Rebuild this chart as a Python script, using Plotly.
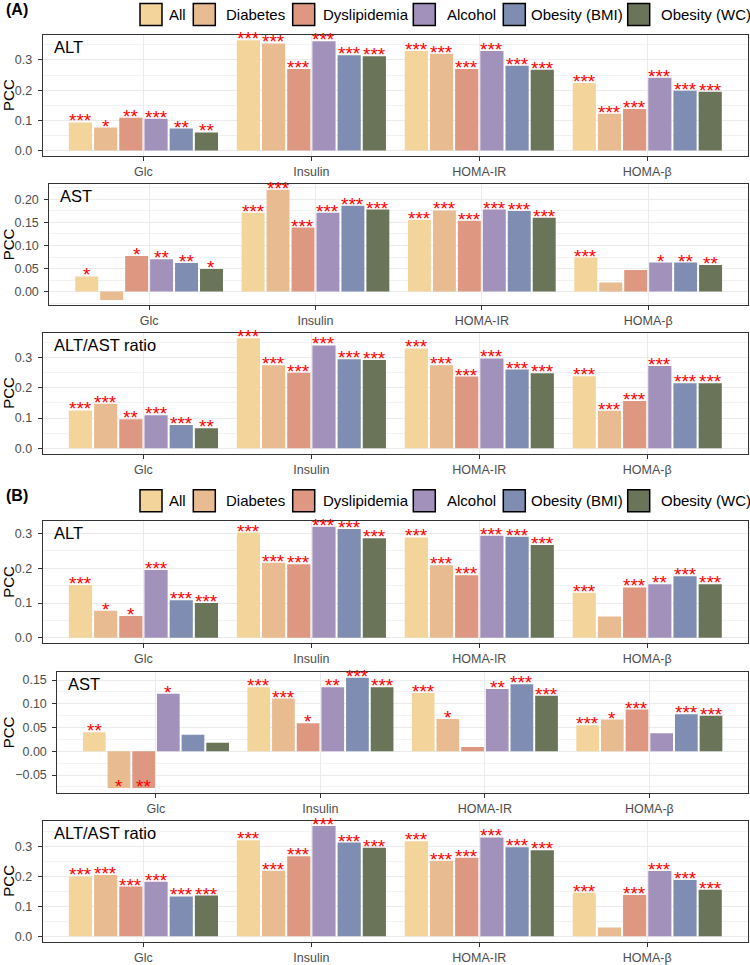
import plotly.graph_objects as go

W, H = 750, 965

CATEGORIES = ["Glc", "Insulin", "HOMA-IR", "HOMA-β"]
GROUPS = ["All", "Diabetes", "Dyslipidemia", "Alcohol", "Obesity (BMI)", "Obesity (WC)"]
COLORS = ["#F3D59B", "#E9BB91", "#DE9882", "#A291BB", "#7E8DB1", "#6A7459"]

# values: one list per group (All, Diabetes, Dyslipidemia, Alcohol, BMI, WC), over CATEGORIES
A_ALT = [[0.093, 0.365, 0.330, 0.224],
         [0.076, 0.355, 0.321, 0.122],
         [0.109, 0.270, 0.270, 0.138],
         [0.105, 0.362, 0.330, 0.241],
         [0.073, 0.316, 0.281, 0.198],
         [0.060, 0.312, 0.268, 0.195]]
A_ALT_SIG = [["***", "***", "***", "***"],
             ["*", "***", "***", "***"],
             ["**", "***", "***", "***"],
             ["***", "***", "***", "***"],
             ["**", "***", "***", "***"],
             ["**", "***", "***", "***"]]

A_AST = [[0.033, 0.171, 0.156, 0.074],
         [-0.018, 0.221, 0.176, 0.020],
         [0.077, 0.139, 0.154, 0.047],
         [0.070, 0.171, 0.178, 0.063],
         [0.062, 0.186, 0.175, 0.063],
         [0.049, 0.178, 0.160, 0.058]]
A_AST_SIG = [["*", "***", "***", "***"],
             ["", "***", "***", ""],
             ["*", "***", "***", ""],
             ["**", "***", "***", "*"],
             ["**", "***", "***", "**"],
             ["*", "***", "***", "**"]]

A_RATIO = [[0.125, 0.364, 0.330, 0.238],
           [0.147, 0.274, 0.274, 0.124],
           [0.096, 0.250, 0.237, 0.156],
           [0.109, 0.340, 0.297, 0.272],
           [0.077, 0.294, 0.260, 0.215],
           [0.066, 0.292, 0.248, 0.215]]
A_RATIO_SIG = [["***", "***", "***", "***"],
               ["***", "***", "***", "***"],
               ["**", "***", "***", "***"],
               ["***", "***", "***", "***"],
               ["***", "***", "***", "***"],
               ["**", "***", "***", "***"]]

B_ALT = [[0.152, 0.303, 0.289, 0.130],
         [0.078, 0.216, 0.209, 0.061],
         [0.063, 0.212, 0.180, 0.145],
         [0.195, 0.320, 0.294, 0.154],
         [0.108, 0.313, 0.291, 0.177],
         [0.100, 0.287, 0.267, 0.154]]
B_ALT_SIG = [["***", "***", "***", "***"],
             ["*", "***", "***", ""],
             ["*", "***", "***", "***"],
             ["***", "***", "***", "**"],
             ["***", "***", "***", "***"],
             ["***", "***", "***", "***"]]

B_AST = [[0.040, 0.135, 0.123, 0.055],
         [-0.077, 0.111, 0.068, 0.067],
         [-0.077, 0.059, 0.009, 0.088],
         [0.121, 0.135, 0.131, 0.038],
         [0.035, 0.155, 0.141, 0.078],
         [0.018, 0.135, 0.117, 0.075]]
B_AST_SIG = [["**", "***", "***", "***"],
             ["*", "***", "*", "*"],
             ["**", "*", "", "***"],
             ["*", "**", "**", ""],
             ["", "***", "***", "***"],
             ["", "***", "***", "***"]]

B_RATIO = [[0.200, 0.321, 0.317, 0.145],
           [0.205, 0.219, 0.252, 0.029],
           [0.166, 0.267, 0.262, 0.138],
           [0.182, 0.368, 0.330, 0.218],
           [0.133, 0.313, 0.297, 0.188],
           [0.136, 0.296, 0.287, 0.155]]
B_RATIO_SIG = [["***", "***", "***", "***"],
               ["***", "***", "***", ""],
               ["***", "***", "***", "***"],
               ["***", "***", "***", "***"],
               ["***", "***", "***", "***"],
               ["***", "***", "***", "***"]]

PANEL_TITLES = ["ALT", "AST", "ALT/AST ratio", "ALT", "AST", "ALT/AST ratio"]
PANEL_DATA = [A_ALT, A_AST, A_RATIO, B_ALT, B_AST, B_RATIO]
PANEL_SIG = [A_ALT_SIG, A_AST_SIG, A_RATIO_SIG, B_ALT_SIG, B_AST_SIG, B_RATIO_SIG]

# layout in pixels: (top, bottom, left, dtick, format)
PANEL_BOX = [(35, 156.7, 42.7, 0.1, ".1f"),
             (185, 306.7, 49.3, 0.05, ".2f"),
             (334, 455.7, 42.7, 0.1, ".1f"),
             (523.3, 646, 42.7, 0.1, ".1f"),
             (675, 796.7, 57.3, 0.05, ".2f"),
             (824, 945.7, 42.7, 0.1, ".1f")]
RIGHT = 748

FONT = "Liberation Sans, Arial, sans-serif"

fig = go.Figure()
annotations = []
shapes = []
layout = {}

for p in range(6):
    vals = PANEL_DATA[p]
    sig = PANEL_SIG[p]
    top, bottom, left, dtick, fmt = PANEL_BOX[p]
    xa = "x" if p == 0 else f"x{p+1}"
    ya = "y" if p == 0 else f"y{p+1}"
    for g in range(6):
        fig.add_trace(go.Bar(
            x=CATEGORIES, y=vals[g], name=GROUPS[g],
            marker=dict(color=COLORS[g], line=dict(width=0)),
            xaxis=xa, yaxis=ya, showlegend=False, hoverinfo="skip"))
        for c in range(4):
            if sig[g][c]:
                annotations.append(dict(
                    x=c + (g - 2.5) * 0.15, y=vals[g][c], xref=xa, yref=ya,
                    text=sig[g][c], showarrow=False, yanchor="bottom",
                    xanchor="center", yshift=-11,
                    font=dict(family=FONT, size=19, color="#FF0000")))
    flat = [v for row in vals for v in row]
    lo = min(0, min(flat))
    hi = max(flat)
    span = hi - lo
    yr = [lo - 0.05 * span, hi + 0.05 * span]
    axis_common = dict(showline=True, mirror=True, linecolor="#333333", linewidth=1,
                       ticks="outside", ticklen=4, tickcolor="#333333", tickwidth=1,
                       tickfont=dict(family=FONT, size=12.5, color="#4D4D4D"),
                       gridcolor="#EBEBEB", gridwidth=1, showgrid=True, zeroline=False)
    layout["xaxis" if p == 0 else f"xaxis{p+1}"] = dict(
        axis_common, domain=[left / W, RIGHT / W], anchor=ya, type="category",
        range=[-0.6, 3.6])
    layout["yaxis" if p == 0 else f"yaxis{p+1}"] = dict(
        axis_common, domain=[(H - bottom) / H, (H - top) / H], anchor=xa,
        range=yr, tick0=0, dtick=dtick, tickformat=fmt, ticklabelstandoff=3,
        minor=dict(dtick=dtick / 2, tick0=0, showgrid=True, gridcolor="#F2F2F2",
                   gridwidth=0.6, ticks=""))
    annotations.append(dict(
        x=(left + 9) / W, y=(H - (top + 12)) / H, xref="paper", yref="paper",
        text=PANEL_TITLES[p], showarrow=False, xanchor="left", yanchor="middle",
        font=dict(family=FONT, size=16.5, color="black")))
    annotations.append(dict(
        x=8.5 / W, y=(H - (top + bottom) / 2) / H, xref="paper", yref="paper",
        text="PCC", showarrow=False, textangle=-90, xanchor="center", yanchor="middle",
        font=dict(family=FONT, size=15, color="black")))

# custom legends for (A) and (B)
LEGEND_BOX_X = [140, 193.3, 292.7, 413.3, 503.3, 627.7]
LEGEND_TEXT_X = [166.7, 224, 320.7, 445, 529.3, 659.3]
for label, box_cy, lab_cy in [("(A)", 14.5, 9.2), ("(B)", 502.8, 497.5)]:
    annotations.append(dict(
        x=4 / W, y=(H - lab_cy) / H, xref="paper", yref="paper", text=f"<b>{label}</b>",
        showarrow=False, xanchor="left", yanchor="middle",
        font=dict(family=FONT, size=16, color="black")))
    for g in range(6):
        x0 = LEGEND_BOX_X[g]
        shapes.append(dict(type="rect", xref="paper", yref="paper",
                           x0=x0 / W, x1=(x0 + 22) / W,
                           y0=(H - (box_cy + 11)) / H, y1=(H - (box_cy - 11)) / H,
                           fillcolor=COLORS[g], line=dict(color="black", width=1.5)))
        annotations.append(dict(
            x=LEGEND_TEXT_X[g] / W, y=(H - box_cy) / H, xref="paper", yref="paper",
            text=GROUPS[g], showarrow=False, xanchor="left", yanchor="middle",
            font=dict(family=FONT, size=15, color="black")))

fig.update_layout(
    width=W, height=H, autosize=False,
    margin=dict(l=0, r=0, t=0, b=0),
    paper_bgcolor="white", plot_bgcolor="white",
    barmode="group", bargap=0.1, bargroupgap=0.08,
    annotations=annotations, shapes=shapes,
    font=dict(family=FONT),
    **layout)

fig.write_html("out.html", config={"displayModeBar": False},
               post_script="document.body.style.margin='0px';document.body.style.overflow='hidden';")
